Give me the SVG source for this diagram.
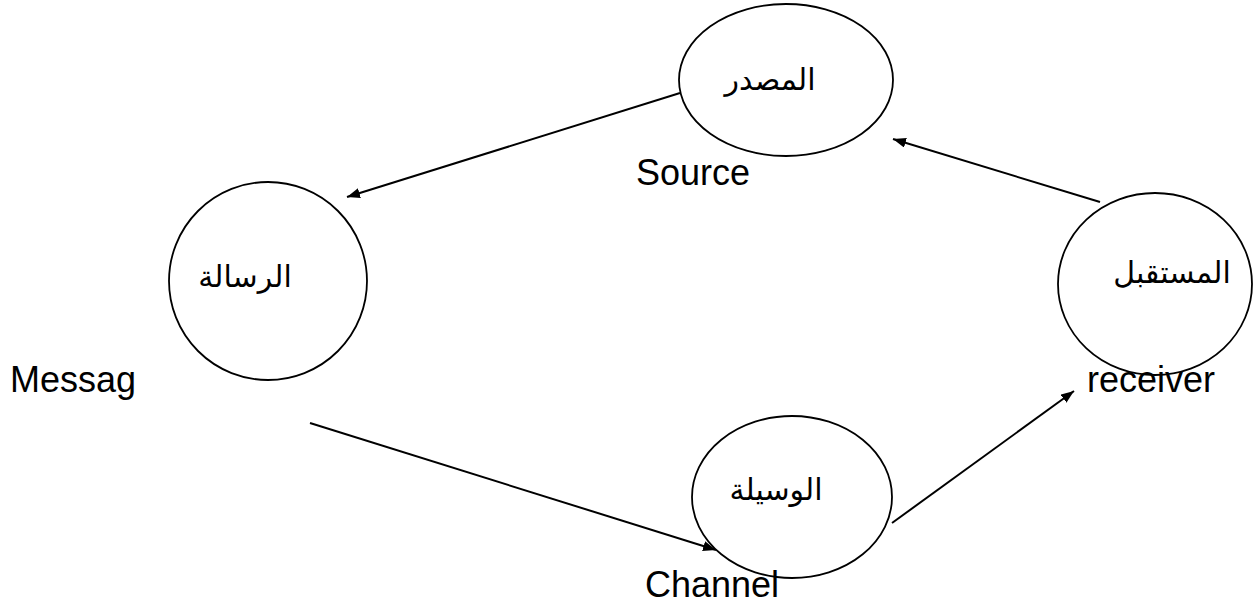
<svg xmlns="http://www.w3.org/2000/svg" width="1256" height="607" viewBox="0 0 1256 607">
  <style>
    .node { fill: #ffffff; stroke: #000000; stroke-width: 1.8; }
    .ar { font-family: "DejaVu Sans", "Liberation Sans", sans-serif; font-size: 30px; fill: #000000; text-anchor: middle; }
    .en { font-family: "Liberation Sans", Arial, sans-serif; font-size: 36px; fill: #000000; }
    .edge { stroke: #000000; stroke-width: 2; fill: none; marker-end: url(#arrow); }
  </style>
  <defs>
    <marker id="arrow" markerUnits="userSpaceOnUse" markerWidth="13" markerHeight="10" refX="13" refY="5" orient="auto">
      <path d="M0,0 L13,5 L0,10 z" fill="#000000"/>
    </marker>
  </defs>
  <rect width="1256" height="607" fill="#ffffff"/>

  <!-- communication cycle arrows -->
  <g id="connectors">
    <line class="edge" x1="680" y1="93" x2="347" y2="197"/>
    <line class="edge" x1="1100" y1="202" x2="893" y2="139"/>
    <line class="edge" x1="310" y1="423" x2="716" y2="550"/>
    <line class="edge" x1="892" y1="523" x2="1074" y2="391"/>
  </g>

  <g id="source">
    <ellipse class="node" cx="786" cy="80" rx="107" ry="76"/>
    <text class="ar" x="770" y="90">المصدر</text>
  </g>

  <g id="message">
    <circle class="node" cx="268" cy="281" r="99"/>
    <text class="ar" x="245" y="287">الرسالة</text>
  </g>

  <g id="receiver">
    <ellipse class="node" cx="1155" cy="284" rx="97" ry="91"/>
    <text class="ar" x="1172" y="283">المستقبل</text>
  </g>

  <g id="channel">
    <ellipse class="node" cx="792" cy="497" rx="100" ry="81"/>
    <text class="ar" x="776" y="500">الوسيلة</text>
  </g>

  <!-- English captions -->
  <g id="labels">
    <text class="en" x="636" y="185">Source</text>
    <text class="en" x="10" y="392">Messag</text>
    <text class="en" x="1087" y="392">receiver</text>
    <text class="en" x="645" y="597">Channel</text>
  </g>
</svg>
